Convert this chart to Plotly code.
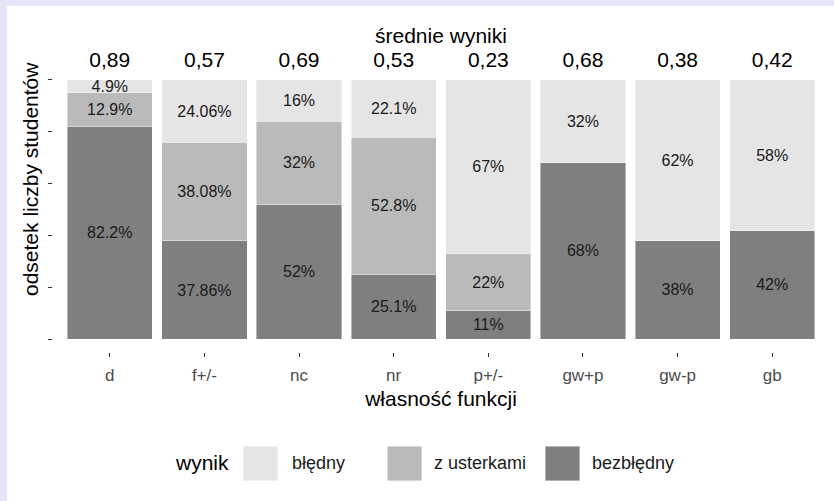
import plotly.graph_objects as go

# ---- data ----
categories = ["d", "f+/-", "nc", "nr", "p+/-", "gw+p", "gw-p", "gb"]
averages = ["0,89", "0,57", "0,69", "0,53", "0,23", "0,68", "0,38", "0,42"]
bezbledny = [82.2, 37.86, 52, 25.1, 11, 68, 38, 42]
z_usterkami = [12.9, 38.08, 32, 52.8, 22, 0, 0, 0]
bledny = [4.9, 24.06, 16, 22.1, 67, 32, 62, 58]

series_names = ["bezbłędny", "z usterkami", "błędny"]
series_values = [bezbledny, z_usterkami, bledny]
series_colors = ["#7f7f7f", "#bababa", "#e5e5e5"]

legend_title = "wynik"
x_title = "własność funkcji"
x2_title = "średnie wyniki"
y_title = "odsetek liczby studentów"

# ---- layout geometry (page pixels; body margin removed by post_script) ----
W, H = 834, 501
ML, MR, MT, MB = 53, 5, 67, 149
PW, PH = W - ML - MR, H - MT - MB
FONT = "Liberation Sans, Arial, sans-serif"
FRAME = "#e6e6fa"


def px_x(x):  # pixel -> paper coordinate
    return (x - ML) / PW


def px_y(y):
    return (H - MB - y) / PH


fig = go.Figure()

for name, vals, col in zip(series_names, series_values, series_colors):
    fig.add_trace(go.Bar(
        x=categories,
        y=[v / 100 for v in vals],
        name=name,
        width=0.9,
        marker=dict(color=col, line=dict(color="rgba(255,255,255,0.7)", width=0.6)),
        text=[f"{v:g}%" if v > 0 else "" for v in vals],
        textposition="inside",
        insidetextanchor="middle",
        textangle=0,
        constraintext="none",
        textfont=dict(family=FONT, size=16, color="#1a1a1a"),
        showlegend=False,
        hoverinfo="skip",
    ))

# invisible trace to carry the top axis
fig.add_trace(go.Scatter(
    x=list(range(len(categories))), y=[0.5] * len(categories),
    xaxis="x2", mode="markers", marker=dict(opacity=0),
    showlegend=False, hoverinfo="skip",
))

shapes = [
    # lavender frame strips on the left and top edges
    dict(type="rect", xref="paper", yref="paper", layer="below",
         x0=px_x(-2), x1=px_x(7), y0=px_y(H + 2), y1=px_y(-2),
         fillcolor=FRAME, line=dict(width=0)),
    dict(type="rect", xref="paper", yref="paper", layer="below",
         x0=px_x(-2), x1=px_x(W + 2), y0=px_y(6), y1=px_y(-2),
         fillcolor=FRAME, line=dict(width=0)),
]
annotations = [
    dict(text=y_title, textangle=-90, xref="paper", yref="paper",
         x=px_x(30), y=px_y(179), showarrow=False,
         font=dict(family=FONT, size=21, color="#000000"),
         xanchor="center", yanchor="middle"),
    dict(text=x2_title, xref="paper", yref="paper",
         x=0.5, y=px_y(35), showarrow=False,
         font=dict(family=FONT, size=21, color="#000000"),
         xanchor="center", yanchor="middle"),
    dict(text=legend_title, xref="paper", yref="paper",
         x=px_x(231), y=px_y(463), showarrow=False,
         font=dict(family=FONT, size=21, color="#000000"),
         xanchor="right", yanchor="middle"),
]

# manual legend (keys as large squares like the reference)
key_x = [243, 387, 545]
text_x = [290, 432, 590]
legend_order = [2, 1, 0]
for kx, tx, idx in zip(key_x, text_x, legend_order):
    shapes.append(dict(type="rect", xref="paper", yref="paper",
                       x0=px_x(kx), x1=px_x(kx + 35), y0=px_y(481), y1=px_y(446),
                       fillcolor=series_colors[idx],
                       line=dict(color="rgba(255,255,255,0.8)", width=1)))
    annotations.append(dict(text=series_names[idx], xref="paper", yref="paper",
                            x=px_x(tx), y=px_y(463), showarrow=False,
                            font=dict(family=FONT, size=18, color="#1a1a1a"),
                            xanchor="left", yanchor="middle"))

fig.update_layout(
    width=W, height=H,
    margin=dict(l=ML, r=MR, t=MT, b=MB, pad=0),
    barmode="stack",
    paper_bgcolor="white",
    plot_bgcolor="white",
    font=dict(family=FONT),
    shapes=shapes,
    annotations=annotations,
    xaxis=dict(
        type="category", categoryorder="array", categoryarray=categories,
        range=[-0.6, len(categories) - 0.4],
        ticks="outside", ticklen=4, tickcolor="#333333", tickwidth=1,
        tickfont=dict(family=FONT, size=17, color="#4d4d4d"),
        ticklabelstandoff=4,
        showgrid=False, zeroline=False, showline=False,
        title=dict(text=x_title, font=dict(family=FONT, size=21, color="#000000"), standoff=6),
    ),
    xaxis2=dict(
        overlaying="x", side="top", anchor="free", position=1 - 4 / PH,
        range=[-0.6, len(categories) - 0.4],
        tickmode="array", tickvals=list(range(len(categories))), ticktext=averages,
        ticks="", showgrid=False, zeroline=False, showline=False,
        tickfont=dict(family=FONT, size=21, color="#000000"),
    ),
    yaxis=dict(
        range=[-0.05, 1.05],
        tickmode="array", tickvals=[0, 0.2, 0.4, 0.6, 0.8, 1.0], ticktext=[""] * 6,
        ticks="outside", ticklen=4, tickcolor="#333333", tickwidth=1,
        showgrid=False, zeroline=False, showline=False,
    ),
)

fig.write_html(
    "out.html",
    config={"displayModeBar": False},
    post_script="document.body.style.margin='0';document.body.style.overflow='hidden';",
)
